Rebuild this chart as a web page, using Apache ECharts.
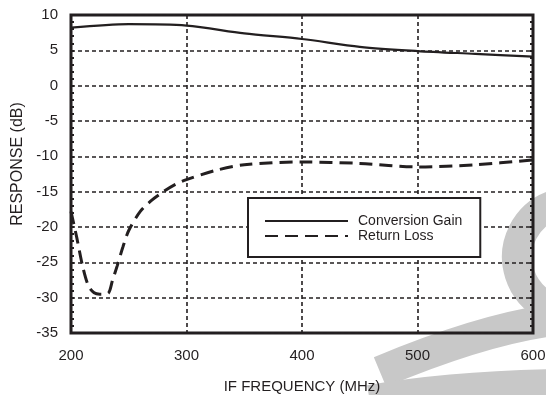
<!DOCTYPE html>
<html>
<head>
<meta charset="utf-8">
<title>Response vs IF frequency</title>
<script src="https://cdn.jsdelivr.net/npm/echarts@6/dist/echarts.min.js"></script>
<style>
  html, body { margin: 0; padding: 0; background: #fff; }
  #chart { width: 546px; height: 395px; }
</style>
</head>
<body>
<div id="chart"></div>
<script type="text/javascript">
// conversion gain (dB) vs IF frequency (MHz)
var gainFreq = [200, 250, 300, 350, 400, 450, 500, 550, 600];
var gainDb   = [8.2, 8.7, 8.5, 7.4, 6.6, 5.5, 4.9, 4.5, 4.1];

// return loss (dB) vs IF frequency (MHz)
var rlFreq = [200, 205, 210, 215, 220, 225, 232, 236, 240, 245, 250, 260, 270, 280, 290, 300, 325, 350, 400, 450, 500, 550, 600];
var rlDb   = [-17.8, -21.5, -25.5, -28.3, -29.3, -29.5, -29.4, -27.5, -25.5, -22.8, -20.5, -17.8, -16.2, -15, -14, -13.3, -12, -11.2, -10.8, -11, -11.5, -11.2, -10.5];

var xTicks = [200, 300, 400, 500, 600];
var yTicks = [-35, -30, -25, -20, -15, -10, -5, 0, 5, 10];

function pairs(xs, ys) {
    var out = [];
    for (var i = 0; i < xs.length; i++) out.push([xs[i], ys[i]]);
    return out;
}

var ink = '#231f20';
var wm = '#c8c8c8';
var font = 'Liberation Sans, Arial, sans-serif';

var myChart = echarts.init(document.getElementById('chart'), null, { renderer: 'canvas' });

var dotted = { color: ink, width: 1.6, type: [4, 3] };

var option = {
    backgroundColor: '#fff',
    animation: false,
    textStyle: { fontFamily: font, color: ink },
    // grey watermark behind the plot
    graphic: [{
        type: 'arc', z: -10, silent: true,
        shape: { cx: 572, cy: 257, r: 55, startAngle: Math.PI * 0.4, endAngle: Math.PI * 1.6, clockwise: true },
        style: { stroke: wm, lineWidth: 30, fill: null }
    }, {
        type: 'bezierCurve', z: -10, silent: true,
        shape: { x1: 575, y1: 318, cpx1: 500, cpy1: 322, x2: 380, y2: 372 },
        style: { stroke: wm, lineWidth: 32, fill: null }
    }, {
        type: 'bezierCurve', z: -10, silent: true,
        shape: { x1: 370, y1: 402, cpx1: 450, cpy1: 388, x2: 560, y2: 386 },
        style: { stroke: wm, lineWidth: 34, fill: null }
    }],
    grid: {
        left: 71, top: 15, right: 13, bottom: 62,
        containLabel: false,
        outerBoundsMode: 'none',
        show: true,
        backgroundColor: 'transparent',
        borderColor: ink,
        borderWidth: 3
    },
    legend: {
        left: 248, top: 198,
        orient: 'vertical',
        backgroundColor: '#fff',
        borderColor: ink,
        borderWidth: 2,
        borderRadius: 0,
        padding: [16, 18, 14, 16],
        itemGap: 1,
        itemWidth: 83,
        itemHeight: 14,
        itemStyle: { opacity: 0 },
        textStyle: { fontSize: 14, color: ink, padding: [0, 0, 0, 5] },
        data: ['Conversion Gain', 'Return Loss']
    },
    xAxis: {
        type: 'value',
        min: 200, max: 600, interval: 100,
        name: 'IF FREQUENCY (MHz)',
        nameLocation: 'middle',
        nameGap: 46,
        nameTextStyle: { fontSize: 15, color: ink },
        axisLine: { show: false },
        axisTick: { show: false },
        axisLabel: {
            fontSize: 15, color: ink, margin: 15,
            formatter: function (v) { return xTicks.indexOf(v) >= 0 ? String(v) : ''; }
        },
        splitLine: { show: true, lineStyle: dotted }
    },
    yAxis: [{
        type: 'value',
        min: -35, max: 10, interval: 5,
        name: 'RESPONSE (dB)',
        nameLocation: 'middle',
        nameGap: 45,
        nameTextStyle: { fontSize: 16, color: ink, padding: [0, 0, 0, 20] },
        axisLine: { show: false },
        axisTick: { show: true, inside: true, length: 3, lineStyle: { color: ink, width: 2 } },
        minorTick: { show: true, splitNumber: 5, length: 3, lineStyle: { color: ink, width: 2 } },
        axisLabel: {
            fontSize: 15, color: ink, margin: 13,
            formatter: function (v) { return yTicks.indexOf(v) >= 0 ? String(v) : ''; }
        },
        splitLine: { show: true, lineStyle: dotted }
    }, {
        type: 'value',
        position: 'right',
        min: -35, max: 10, interval: 5,
        axisLine: { show: false },
        axisTick: { show: true, inside: true, length: 3, lineStyle: { color: ink, width: 2 } },
        minorTick: { show: true, splitNumber: 5, length: 3, lineStyle: { color: ink, width: 2 } },
        axisLabel: { show: false },
        splitLine: { show: false }
    }],
    series: [{
        name: 'Conversion Gain',
        type: 'line',
        smooth: 0.3,
        symbol: 'none',
        z: 3,
        lineStyle: { color: ink, width: 2.2, type: 'solid' },
        itemStyle: { color: ink },
        data: pairs(gainFreq, gainDb)
    }, {
        name: 'Return Loss',
        type: 'line',
        smooth: 0.3,
        symbol: 'none',
        z: 3,
        lineStyle: { color: ink, width: 3, type: [13, 7] },
        itemStyle: { color: ink },
        data: pairs(rlFreq, rlDb)
    }]
};

myChart.setOption(option);
</script>
</body>
</html>
